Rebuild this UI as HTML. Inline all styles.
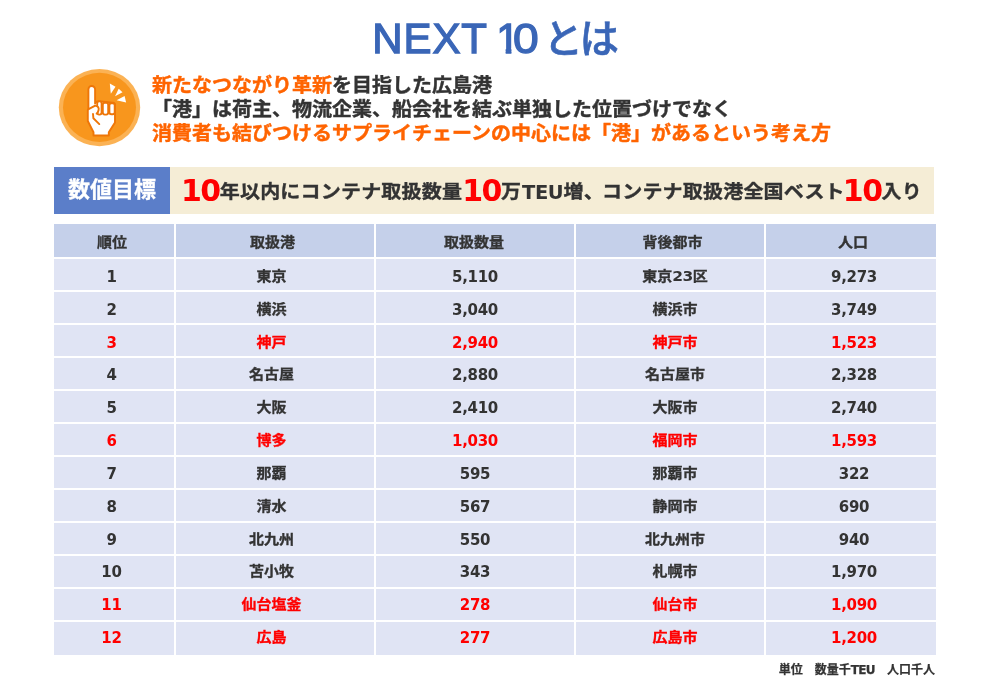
<!DOCTYPE html>
<html lang="ja">
<head>
<meta charset="utf-8">
<title>NEXT 10 とは</title>
<style>
html,body{margin:0;padding:0;background:#fff;}
body{width:990px;height:692px;position:relative;overflow:hidden;
 font-family:"Liberation Sans","Noto Sans CJK JP",sans-serif;color:#333;}
.abs{position:absolute;white-space:nowrap;}
#title{left:0;top:12.5px;height:52px;width:990px;font-size:42px;line-height:52px;color:#3a66b7;-webkit-text-stroke:1.3px #3a66b7;}
#title span{white-space:nowrap;}
#t1{margin-left:372.3px;letter-spacing:0.9px;}
#t2{position:absolute;top:0;left:496.2px;letter-spacing:0;}
#t2 .zero{display:inline-block;transform:scaleX(1.1);transform-origin:0 50%;margin-left:-6.4px;}
#t2 .one{display:inline-block;clip-path:polygon(0 0,100% 0,100% 36px,15.2px 36px,15.2px 100%,9.5px 100%,9.5px 36px,0 36px);}
#t3{position:absolute;top:0;left:543.5px;font-size:39.5px;letter-spacing:-3.5px;font-weight:500;-webkit-text-stroke:0.6px #3a66b7;}
#lead{-webkit-text-stroke:0.45px;left:152px;top:73.5px;font-size:20px;line-height:25.5px;transform:scaleY(0.94);transform-origin:0 0;font-weight:bold;color:#333;font-family:"DejaVu Sans","Noto Sans CJK JP",sans-serif;}
#lead .o{color:#ff6400;}
#label{-webkit-text-stroke:0.3px;left:54px;top:167px;width:116px;height:47px;background:#5b7ec9;color:#fff;font-weight:bold;font-size:22px;line-height:46px;text-align:center;}
#goal{left:170px;top:167px;width:764px;height:47px;background:#f5edd6;font-weight:bold;font-size:20px;line-height:47px;color:#333;font-family:"DejaVu Sans","Noto Sans CJK JP",sans-serif;}
#goal span.t{position:absolute;left:11px;top:0;white-space:nowrap;letter-spacing:0.2px;}
#goal .k{-webkit-text-stroke:0.4px;display:inline-block;transform:scaleY(.93);transform-origin:50% 30%;}
#goal u{text-decoration:none;margin-right:-2px;}
#goal b{color:#f00;font-size:30px;font-family:"DejaVu Sans",sans-serif;vertical-align:-2px;letter-spacing:-1.5px;}
#goal i{font-style:normal;font-size:19.5px;letter-spacing:-0.5px;margin:0 0.5px 0 1px;}
.thead{position:absolute;left:0;top:224px;width:990px;height:33px;line-height:36px;font-size:15px;font-weight:bold;}
.row{position:absolute;left:0;width:990px;font-weight:bold;font-size:15px;color:#333;}
.row.red{color:#f00;}
.c{position:absolute;top:0;height:100%;text-align:center;background:#e0e4f4;white-space:nowrap;overflow:hidden;}
.c span{position:relative;display:inline-block;}
.c.h span,.c.j span{transform:scaleY(.93);-webkit-text-stroke:0.35px;}
.c.j i{-webkit-text-stroke:0;}
.c.h{background:#c5d0ea;}
.c.n{font-family:"DejaVu Sans","Noto Sans CJK JP",sans-serif;font-size:15px;letter-spacing:-0.3px;}
.c.n span{top:3px;}
.c.j{font-family:"DejaVu Sans","Noto Sans CJK JP",sans-serif;font-size:15px;}
.c.j span{top:2px;}
.c.j i{font-style:normal;font-size:15.5px;letter-spacing:-0.6px;}
#unit{-webkit-text-stroke:0.25px;left:700px;width:235px;text-align:right;top:662px;font-size:12px;line-height:16px;font-weight:bold;color:#333;font-family:"DejaVu Sans","Noto Sans CJK JP",sans-serif;}
#unit i{font-style:normal;font-size:12px;letter-spacing:-0.6px;}
#icon{left:55px;top:62px;width:90px;height:90px;}
</style>
</head>
<body>
<div id="title" class="abs"><span id="t1">NEXT</span> <span id="t2"><span class="one">1</span><span class="zero">0</span></span> <span id="t3">とは</span></div>
<svg id="icon" class="abs" viewBox="55 62 90 90">
 <ellipse cx="99.5" cy="107.6" rx="40.7" ry="38.6" fill="#fbb254"/>
 <ellipse cx="99.5" cy="107.4" rx="36.5" ry="34.6" fill="#f8961d"/>
 <g fill="#fff" stroke="#ee7608" stroke-width="1.9" stroke-linejoin="round" stroke-linecap="round">
  <path d="M88.4,109 L88.4,89.4 A3.35,3.35 0 0 1 95.1,89.4 L95.1,103.5 Q96,101.2 98.5,101.2 L113,102.8 Q115,103 115,105 L115,122.5 L108.8,132.2 L108.8,135.5 L93.5,135.5 L93.5,132.2 L87.8,121 L87.8,110 Z"/>
  <rect x="97.2" y="101.4" width="4.4" height="13.2" rx="2"/>
  <rect x="102.8" y="102.8" width="5.4" height="11.8" rx="2"/>
  <rect x="109.4" y="103.3" width="5.3" height="11" rx="2"/>
  <path d="M88.6,109.2 L95.2,105.6 Q99.4,106.5 98.6,110 Q98.2,112.2 96.6,113.6" fill="#fff"/>
  <path d="M93,114 L93.4,118.3 L99.3,124.1" fill="none"/>
 </g>
 <g fill="#fff">
  <path d="M109.8,83.6 L115.5,86.7 L110.8,93.8 Z"/>
  <path d="M118.7,88.8 L122.5,92.3 L115.0,96.3 Z"/>
  <path d="M124.6,96.0 L126.1,102.5 L116.6,100.3 Z"/>
 </g>
</svg>
<div id="lead" class="abs"><span class="o">新たなつながり革新</span>を目指した広島港<br>「港」は荷主、物流企業、船会社を結ぶ単独した位置づけでなく<br><span class="o">消費者も結びつけるサプライチェーンの中心には「港」があるという考え方</span></div>
<div id="label" class="abs">数値目標</div>
<div id="goal" class="abs"><span class="t"><b>10</b><span class="k">年以内にコンテナ取扱数量</span><b>10</b><span class="k">万</span><i>TEU</i><span class="k">増<u>、</u>コンテナ取扱港全国ベスト</span><b style="margin-left:-2px">10</b><span class="k">入り</span></span></div>
<div class="thead">
<div class="c h" style="left:54px;width:120px"><span style="left:-2px">順位</span></div>
<div class="c h" style="left:176px;width:198px"><span style="left:-2.5px">取扱港</span></div>
<div class="c h" style="left:376px;width:198px"><span style="left:-1px">取扱数量</span></div>
<div class="c h" style="left:576px;width:188px"><span style="left:2.5px">背後都市</span></div>
<div class="c h" style="left:766px;width:170px"><span style="left:2px">人口</span></div>
</div>
<div class="row" style="top:259px;height:31px;line-height:31px">
<div class="c n" style="left:54px;width:120px"><span style="left:-2.5px;top:3.00px">1</span></div>
<div class="c j" style="left:176px;width:198px"><span style="left:-3.5px;top:2.00px">東京</span></div>
<div class="c n" style="left:376px;width:198px"><span style="left:0px;top:3.00px">5,110</span></div>
<div class="c j" style="left:576px;width:188px"><span style="left:5px;top:2.00px">東京<i>23</i>区</span></div>
<div class="c n" style="left:766px;width:170px"><span style="left:3px;top:3.00px">9,273</span></div>
</div>
<div class="row" style="top:292px;height:31px;line-height:31px">
<div class="c n" style="left:54px;width:120px"><span style="left:-2.5px;top:2.83px">2</span></div>
<div class="c j" style="left:176px;width:198px"><span style="left:-3.5px;top:1.83px">横浜</span></div>
<div class="c n" style="left:376px;width:198px"><span style="left:0px;top:2.83px">3,040</span></div>
<div class="c j" style="left:576px;width:188px"><span style="left:5px;top:1.83px">横浜市</span></div>
<div class="c n" style="left:766px;width:170px"><span style="left:3px;top:2.83px">3,749</span></div>
</div>
<div class="row red" style="top:325px;height:31px;line-height:31px">
<div class="c n" style="left:54px;width:120px"><span style="left:-2.5px;top:2.66px">3</span></div>
<div class="c j" style="left:176px;width:198px"><span style="left:-3.5px;top:1.66px">神戸</span></div>
<div class="c n" style="left:376px;width:198px"><span style="left:0px;top:2.66px">2,940</span></div>
<div class="c j" style="left:576px;width:188px"><span style="left:5px;top:1.66px">神戸市</span></div>
<div class="c n" style="left:766px;width:170px"><span style="left:3px;top:2.66px">1,523</span></div>
</div>
<div class="row" style="top:358px;height:31px;line-height:31px">
<div class="c n" style="left:54px;width:120px"><span style="left:-2.5px;top:2.49px">4</span></div>
<div class="c j" style="left:176px;width:198px"><span style="left:-3.5px;top:1.49px">名古屋</span></div>
<div class="c n" style="left:376px;width:198px"><span style="left:0px;top:2.49px">2,880</span></div>
<div class="c j" style="left:576px;width:188px"><span style="left:5px;top:1.49px">名古屋市</span></div>
<div class="c n" style="left:766px;width:170px"><span style="left:3px;top:2.49px">2,328</span></div>
</div>
<div class="row" style="top:391px;height:31px;line-height:31px">
<div class="c n" style="left:54px;width:120px"><span style="left:-2.5px;top:2.32px">5</span></div>
<div class="c j" style="left:176px;width:198px"><span style="left:-3.5px;top:1.32px">大阪</span></div>
<div class="c n" style="left:376px;width:198px"><span style="left:0px;top:2.32px">2,410</span></div>
<div class="c j" style="left:576px;width:188px"><span style="left:5px;top:1.32px">大阪市</span></div>
<div class="c n" style="left:766px;width:170px"><span style="left:3px;top:2.32px">2,740</span></div>
</div>
<div class="row red" style="top:424px;height:31px;line-height:31px">
<div class="c n" style="left:54px;width:120px"><span style="left:-2.5px;top:2.15px">6</span></div>
<div class="c j" style="left:176px;width:198px"><span style="left:-3.5px;top:1.15px">博多</span></div>
<div class="c n" style="left:376px;width:198px"><span style="left:0px;top:2.15px">1,030</span></div>
<div class="c j" style="left:576px;width:188px"><span style="left:5px;top:1.15px">福岡市</span></div>
<div class="c n" style="left:766px;width:170px"><span style="left:3px;top:2.15px">1,593</span></div>
</div>
<div class="row" style="top:457px;height:31px;line-height:31px">
<div class="c n" style="left:54px;width:120px"><span style="left:-2.5px;top:1.98px">7</span></div>
<div class="c j" style="left:176px;width:198px"><span style="left:-3.5px;top:0.98px">那覇</span></div>
<div class="c n" style="left:376px;width:198px"><span style="left:0px;top:1.98px">595</span></div>
<div class="c j" style="left:576px;width:188px"><span style="left:5px;top:0.98px">那覇市</span></div>
<div class="c n" style="left:766px;width:170px"><span style="left:3px;top:1.98px">322</span></div>
</div>
<div class="row" style="top:490px;height:31px;line-height:31px">
<div class="c n" style="left:54px;width:120px"><span style="left:-2.5px;top:1.81px">8</span></div>
<div class="c j" style="left:176px;width:198px"><span style="left:-3.5px;top:0.81px">清水</span></div>
<div class="c n" style="left:376px;width:198px"><span style="left:0px;top:1.81px">567</span></div>
<div class="c j" style="left:576px;width:188px"><span style="left:5px;top:0.81px">静岡市</span></div>
<div class="c n" style="left:766px;width:170px"><span style="left:3px;top:1.81px">690</span></div>
</div>
<div class="row" style="top:523px;height:31px;line-height:31px">
<div class="c n" style="left:54px;width:120px"><span style="left:-2.5px;top:1.64px">9</span></div>
<div class="c j" style="left:176px;width:198px"><span style="left:-3.5px;top:0.64px">北九州</span></div>
<div class="c n" style="left:376px;width:198px"><span style="left:0px;top:1.64px">550</span></div>
<div class="c j" style="left:576px;width:188px"><span style="left:5px;top:0.64px">北九州市</span></div>
<div class="c n" style="left:766px;width:170px"><span style="left:3px;top:1.64px">940</span></div>
</div>
<div class="row" style="top:556px;height:31px;line-height:31px">
<div class="c n" style="left:54px;width:120px"><span style="left:-2.5px;top:1.47px">10</span></div>
<div class="c j" style="left:176px;width:198px"><span style="left:-3.5px;top:0.47px">苫小牧</span></div>
<div class="c n" style="left:376px;width:198px"><span style="left:0px;top:1.47px">343</span></div>
<div class="c j" style="left:576px;width:188px"><span style="left:5px;top:0.47px">札幌市</span></div>
<div class="c n" style="left:766px;width:170px"><span style="left:3px;top:1.47px">1,970</span></div>
</div>
<div class="row red" style="top:589px;height:31px;line-height:31px">
<div class="c n" style="left:54px;width:120px"><span style="left:-2.5px;top:1.30px">11</span></div>
<div class="c j" style="left:176px;width:198px"><span style="left:-3.5px;top:0.30px">仙台塩釜</span></div>
<div class="c n" style="left:376px;width:198px"><span style="left:0px;top:1.30px">278</span></div>
<div class="c j" style="left:576px;width:188px"><span style="left:5px;top:0.30px">仙台市</span></div>
<div class="c n" style="left:766px;width:170px"><span style="left:3px;top:1.30px">1,090</span></div>
</div>
<div class="row red" style="top:622px;height:33px;line-height:33px">
<div class="c n" style="left:54px;width:120px"><span style="left:-2.5px;top:0.13px">12</span></div>
<div class="c j" style="left:176px;width:198px"><span style="left:-3.5px;top:-0.87px">広島</span></div>
<div class="c n" style="left:376px;width:198px"><span style="left:0px;top:0.13px">277</span></div>
<div class="c j" style="left:576px;width:188px"><span style="left:5px;top:-0.87px">広島市</span></div>
<div class="c n" style="left:766px;width:170px"><span style="left:3px;top:0.13px">1,200</span></div>
</div>
<div id="unit" class="abs">単位　数量千<i>TEU</i>　人口千人</div>
</body>
</html>
